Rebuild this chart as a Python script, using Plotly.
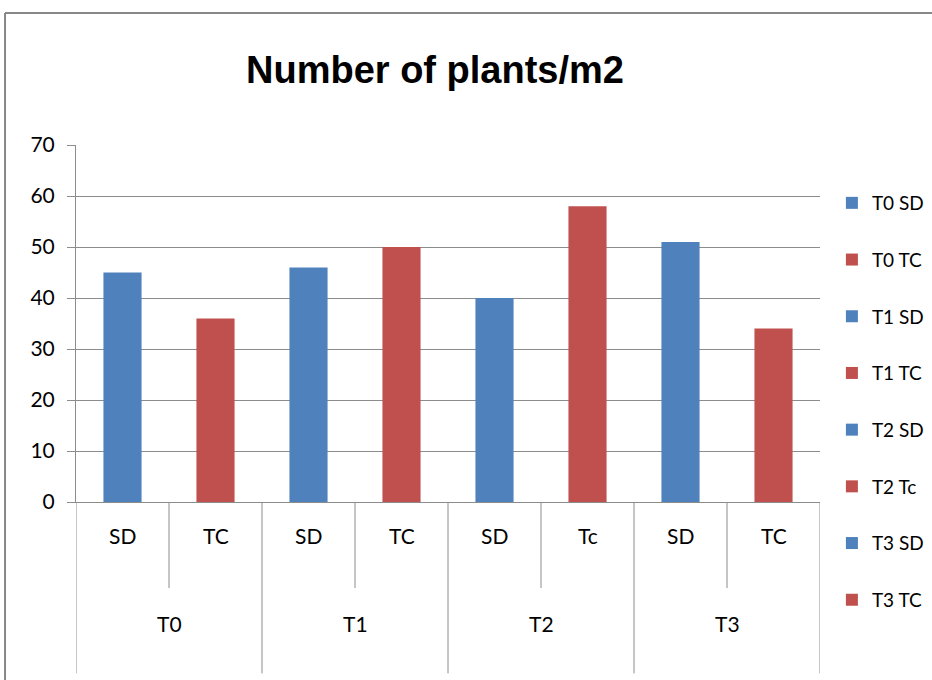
import plotly.graph_objects as go

# Treatments, planting methods and plant density (plants per m2)
groups = ["T0", "T0", "T1", "T1", "T2", "T2", "T3", "T3"]
methods = ["SD", "TC", "SD", "TC", "SD", "Tc", "SD", "TC"]
series_names = ["T0 SD", "T0 TC", "T1 SD", "T1 TC", "T2 SD", "T2 Tc", "T3 SD", "T3 TC"]
plants_per_m2 = [45, 36, 46, 50, 40, 58, 51, 34]

BLUE = "#4F81BD"
RED = "#C0504D"
GRID = "#8C8C8C"
FONT = "Lato, sans-serif"

fig = go.Figure()
for i, (name, val) in enumerate(zip(series_names, plants_per_m2)):
    fig.add_trace(go.Bar(
        x=[name], y=[val], name=name,
        marker=dict(color=BLUE if methods[i] == "SD" else RED, line=dict(width=0)),
        width=0.41, legendgroup=name,
    ))

# Two-level category axis drawn as labels and divider lines
shapes = []
annotations = []
n = len(series_names)
for i in range(n):
    annotations.append(dict(x=series_names[i], y=-0.134, xref="x", yref="paper",
                            text=methods[i], showarrow=False,
                            font=dict(family=FONT, size=21, color="#000")))
for b in range(0, n + 1):
    top_level = (b % 2 == 0)
    shapes.append(dict(type="line", xref="x", yref="paper",
                       x0=b - 0.5, x1=b - 0.5, y0=0, y1=-0.48 if top_level else -0.241,
                       line=dict(color=GRID, width=1)))
for g in range(0, n, 2):
    annotations.append(dict(x=g + 0.5, y=-0.381, xref="x", yref="paper",
                            text=groups[g], showarrow=False,
                            font=dict(family=FONT, size=21, color="#000")))

# Chart frame border (top and left edges)
shapes.append(dict(type="line", xref="paper", yref="paper",
                   x0=-0.0954, x1=1.2, y0=1.3697, y1=1.3697,
                   line=dict(color="#888888", width=2)))
shapes.append(dict(type="line", xref="paper", yref="paper",
                   x0=-0.0954, x1=-0.0954, y0=1.3697, y1=-0.6,
                   line=dict(color="#888888", width=2)))

fig.update_layout(
    width=932, height=680,
    margin=dict(l=76, r=112, t=145, b=178, autoexpand=False),
    paper_bgcolor="white", plot_bgcolor="white",
    barmode="overlay",
    title=dict(text="<b>Number of plants/m2</b>", x=435 / 932, xanchor="center",
               y=1 - 70 / 680, yanchor="middle",
               font=dict(family="Liberation Sans, Arial, sans-serif", size=38, color="#000")),
    xaxis=dict(type="category", showticklabels=False, ticks="", showgrid=False,
               showline=True, linecolor=GRID, linewidth=1,
               range=[-0.5, n - 0.5], fixedrange=True),
    yaxis=dict(range=[0, 70], dtick=10, showgrid=True, gridcolor=GRID, gridwidth=1,
               showline=True, linecolor=GRID, linewidth=1,
               ticks="outside", ticklen=8, tickcolor=GRID,
               ticklabelstandoff=8,
               zeroline=False,
               tickfont=dict(family=FONT, size=21, color="#000")),
    legend=dict(x=1.016, xanchor="left", y=(502 - 184) / 357, yanchor="top",
                tracegroupgap=29, traceorder="grouped", maxheight=650,
                font=dict(family=FONT, size=19, color="#000"),
                bgcolor="rgba(0,0,0,0)"),
    shapes=shapes, annotations=annotations,
    showlegend=True,
)

fig.write_html("out.html")
